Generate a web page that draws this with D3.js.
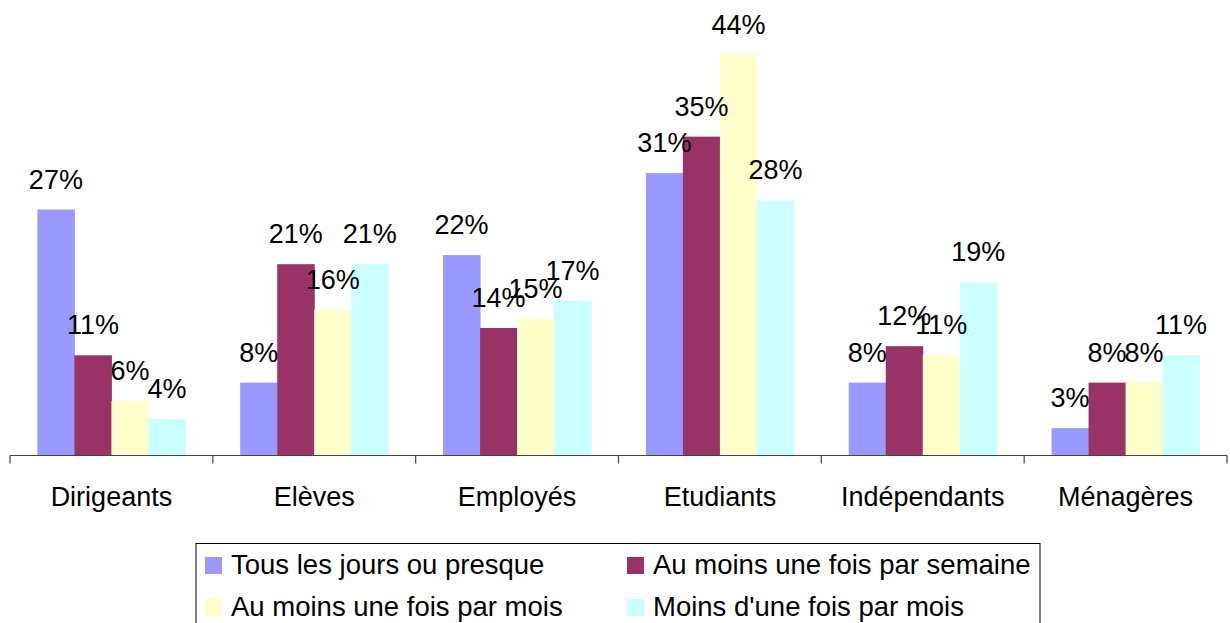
<!DOCTYPE html>
<html>
<head>
<meta charset="utf-8">
<script src="https://cdn.jsdelivr.net/npm/d3@7"></script>
<style>
    body { margin: 0; background: #fff; }
    svg text { font-family: 'Liberation Sans', Arial, sans-serif; fill: #000; }
</style>
</head>
<body>
<svg class="chart"></svg>
<script>
const categories = ['Dirigeants', 'Elèves', 'Employés', 'Etudiants', 'Indépendants', 'Ménagères'];
const seriesNames = [
    'Tous les jours ou presque',
    'Au moins une fois par semaine',
    'Au moins une fois par mois',
    "Moins d'une fois par mois"
];
const seriesColors = ['#9999FF', '#993366', '#FFFFCC', '#CCFFFF'];
const tousLesJours = [27, 8, 22, 31, 8, 3];
const parSemaine = [11, 21, 14, 35, 12, 8];
const parMois = [6, 16, 15, 44, 11, 8];
const moinsParMois = [4, 21, 17, 28, 19, 11];

const seriesValues = [tousLesJours, parSemaine, parMois, moinsParMois];

const width = 1230;
const height = 623;
const baseline = 455.5;

const svg = d3.select('.chart').attr('width', width).attr('height', height);

const x = d3.scaleBand().domain(categories).range([10, 1227]).padding(0);
const xInner = d3
    .scaleBand()
    .domain(d3.range(seriesNames.length))
    .range([0, x.bandwidth()])
    .paddingInner(0)
    .paddingOuter(0.74);
const y = d3.scaleLinear().domain([0, 50]).range([baseline, 0]);

// bars + labels
const groups = svg
    .selectAll('.group')
    .data(categories)
    .enter()
    .append('g')
    .attr('class', 'group')
    .attr('transform', (d) => `translate(${x(d)},0)`);

groups.each(function(cat, ci) {
    const g = d3.select(this);
    const rows = seriesValues.map((vals, si) => ({ si, v: vals[ci] }));

    g.selectAll('rect')
        .data(rows)
        .enter()
        .append('rect')
        .attr('x', (d) => xInner(d.si))
        .attr('width', xInner.bandwidth() + 0.5)
        .attr('y', (d) => y(d.v))
        .attr('height', (d) => baseline - y(d.v))
        .attr('fill', (d) => seriesColors[d.si]);

    g.selectAll('.lbl')
        .data(rows)
        .enter()
        .append('text')
        .attr('class', 'lbl')
        .attr('x', (d) => xInner(d.si) + xInner.bandwidth() / 2)
        .attr('y', (d) => y(d.v) - 21)
        .attr('text-anchor', 'middle')
        .style('font-size', '27px')
        .text((d) => d.v + '%');
});

// axis
const axis = svg.append('g').attr('transform', `translate(0,${baseline})`);
axis.append('line')
    .attr('x1', 10).attr('x2', 1227)
    .attr('y1', 0).attr('y2', 0)
    .attr('stroke', '#444').attr('stroke-width', 1.2);

const tickPos = categories.map((c) => x(c)).concat([x.range()[1]]);
axis.selectAll('.tick')
    .data(tickPos)
    .enter()
    .append('line')
    .attr('x1', (d) => d).attr('x2', (d) => d)
    .attr('y1', 0).attr('y2', 8)
    .attr('stroke', '#444').attr('stroke-width', 1.2);

axis.selectAll('.cat')
    .data(categories)
    .enter()
    .append('text')
    .attr('x', (d) => x(d) + x.bandwidth() / 2)
    .attr('y', 50)
    .attr('text-anchor', 'middle')
    .style('font-size', '27px')
    .text((d) => d);

// legend
const legend = svg.append('g');
legend.append('rect')
    .attr('x', 196).attr('y', 543.5)
    .attr('width', 844).attr('height', 100)
    .attr('fill', '#fff').attr('stroke', '#000').attr('stroke-width', 1);

const legendItems = legend
    .selectAll('.item')
    .data(seriesNames)
    .enter()
    .append('g')
    .attr('transform', (d, i) => `translate(${i % 2 === 0 ? 205 : 627},${557 + Math.floor(i / 2) * 42})`);

legendItems.append('rect')
    .attr('width', 17).attr('height', 17)
    .attr('fill', (d, i) => seriesColors[i]);

legendItems.append('text')
    .attr('x', 26).attr('y', 17)
    .style('font-size', '27.5px')
    .text((d) => d);
</script>
</body>
</html>
